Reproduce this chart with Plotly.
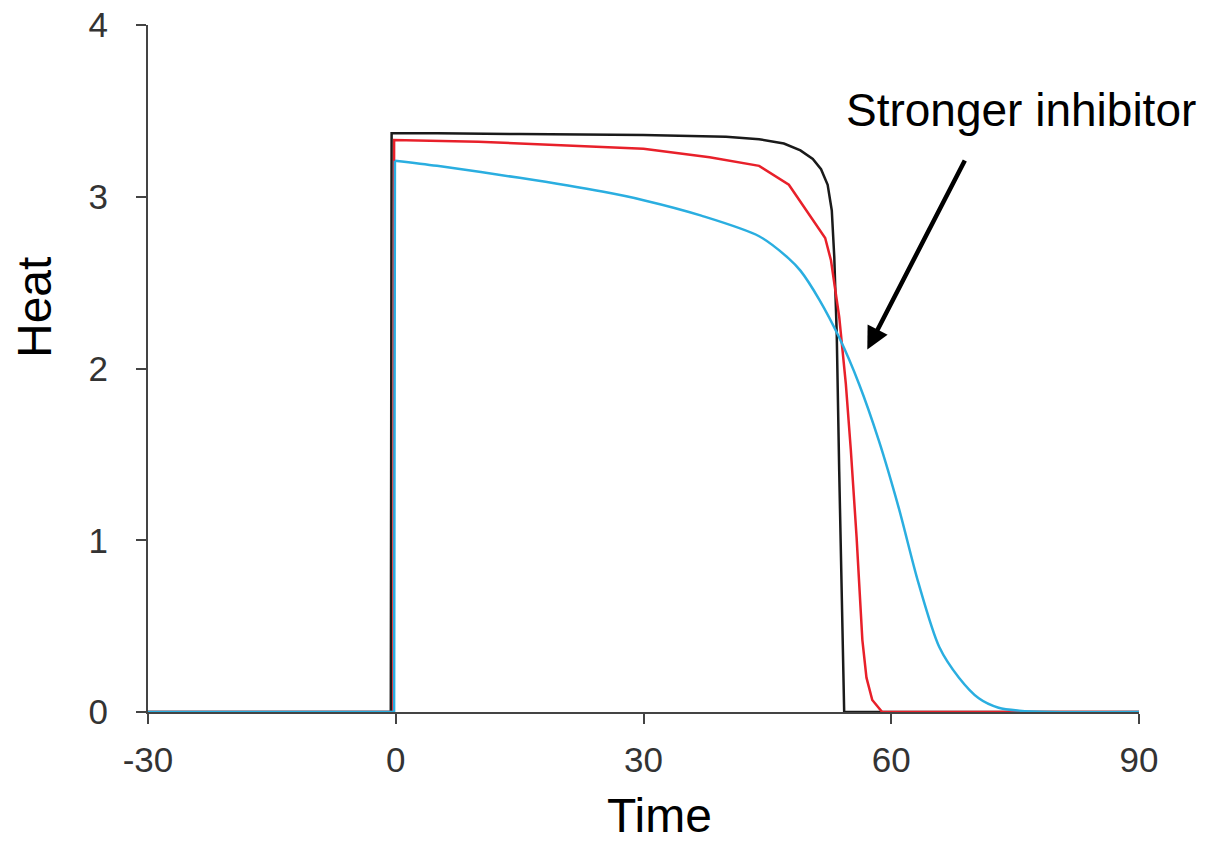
import plotly.graph_objects as go

# Data
black_x = [-30, -0.6, -0.5, 5, 15, 30, 40, 44, 47, 49, 50.5, 51.5, 52.3, 52.8, 53.1, 53.4, 53.7, 54.0, 54.3, 90]
black_y = [0, 0, 3.37, 3.37, 3.365, 3.36, 3.35, 3.335, 3.31, 3.27, 3.22, 3.16, 3.07, 2.92, 2.65, 2.2, 1.4, 0.6, 0, 0]

red_x = [-30, -0.3, -0.2, 10, 20, 30, 38, 44, 47.6, 50, 52, 52.7, 53.7, 54.5, 55.1, 55.8, 56.5, 57.0, 57.7, 58.9, 90]
red_y = [0, 0, 3.33, 3.32, 3.30, 3.28, 3.23, 3.18, 3.07, 2.90, 2.76, 2.63, 2.30, 1.91, 1.53, 1.02, 0.42, 0.2, 0.07, 0, 0]

blue_x = [-30, -0.2, -0.1, 5, 15, 25, 30, 37, 44, 47.6, 49, 51.3, 53.7, 56.1, 58.5, 60.9, 63.3, 65.8, 68.2, 70.6, 73, 75.5, 79, 90]
blue_y = [0, 0, 3.21, 3.18, 3.11, 3.03, 2.98, 2.89, 2.77, 2.64, 2.57, 2.40, 2.18, 1.91, 1.58, 1.19, 0.75, 0.38, 0.20, 0.08, 0.025, 0.008, 0, 0]

x_ticks = [-30, 0, 30, 60, 90]
y_ticks = [0, 1, 2, 3, 4]

FONT = "Arial, Liberation Sans, sans-serif"
BLUE = "#2aaee0"

fig = go.Figure()
fig.add_trace(go.Scatter(x=black_x, y=black_y, mode="lines",
                         line=dict(color="#1a1a1a", width=2.5), showlegend=False))
fig.add_trace(go.Scatter(x=red_x, y=red_y, mode="lines",
                         line=dict(color="#e8202a", width=2.5), showlegend=False))
# blue: sharp step drawn straight, smooth decay drawn as spline
fig.add_trace(go.Scatter(x=blue_x[:3], y=blue_y[:3], mode="lines",
                         line=dict(color=BLUE, width=2.5), showlegend=False))
fig.add_trace(go.Scatter(x=blue_x[2:], y=blue_y[2:], mode="lines",
                         line=dict(color=BLUE, width=2.5, shape="spline", smoothing=0.8),
                         showlegend=False))

fig.update_layout(
    width=1210, height=842,
    margin=dict(l=148, r=71, t=25, b=130, autoexpand=False),
    paper_bgcolor="white", plot_bgcolor="white",
    font=dict(family=FONT, color="#333333"),
    xaxis=dict(range=[-30, 90], tickvals=x_ticks, ticktext=[str(v) for v in x_ticks],
               showgrid=False, zeroline=False, showline=True, linecolor="#444444", linewidth=2,
               ticks="outside", ticklen=10, tickwidth=2, tickcolor="#444444",
               tickfont=dict(size=35, family=FONT, color="#333333"),
               ticklabelstandoff=6, layer="below traces", automargin=False),
    yaxis=dict(range=[0, 4], tickvals=y_ticks, ticktext=[str(v) for v in y_ticks],
               showgrid=False, zeroline=False, showline=True, linecolor="#444444", linewidth=2,
               ticks="outside", ticklen=10, tickwidth=2, tickcolor="#444444",
               tickfont=dict(size=35, family=FONT, color="#333333"),
               ticklabelstandoff=21, layer="below traces", automargin=False),
)

fig.add_annotation(text="Time", xref="paper", yref="paper",
                   x=(659 - 148) / (1139 - 148), y=(712 - 815) / (712 - 25),
                   showarrow=False, font=dict(size=48, family=FONT, color="black"),
                   xanchor="center", yanchor="middle")
fig.add_annotation(text="Heat", xref="paper", yref="paper",
                   x=(34 - 148) / (1139 - 148), y=(712 - 308) / (712 - 25),
                   showarrow=False, textangle=-90, font=dict(size=48, family=FONT, color="black"),
                   xanchor="center", yanchor="middle")
fig.add_annotation(text="Stronger inhibitor", xref="paper", yref="paper",
                   x=(1021 - 148) / (1139 - 148), y=(712 - 110) / (712 - 25),
                   showarrow=False, font=dict(size=46, family=FONT, color="black"),
                   xanchor="center", yanchor="middle")
# Arrow
fig.add_annotation(x=57.1, y=2.11, ax=69.0, ay=3.22, xref="x", yref="y", axref="x", ayref="y",
                   text="", showarrow=True, arrowhead=2, arrowsize=1.0, arrowwidth=4.5,
                   arrowcolor="black")

fig.write_html("out.html")
